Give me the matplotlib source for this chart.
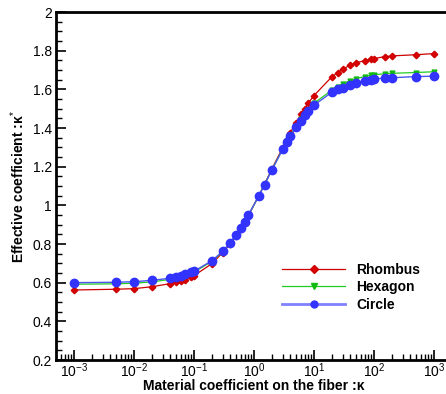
import numpy as np
import matplotlib
matplotlib.use("Agg")
import matplotlib.pyplot as plt
from matplotlib.ticker import MultipleLocator, LogLocator, NullFormatter, FixedLocator

plt.rcParams['font.family'] = ['Liberation Sans', 'DejaVu Sans']
plt.rcParams['mathtext.fontset'] = 'custom'
plt.rcParams['mathtext.rm'] = 'Liberation Sans'
plt.rcParams['mathtext.it'] = 'Liberation Sans:italic'
plt.rcParams['mathtext.bf'] = 'Liberation Sans:bold'

# material coefficient on the fiber
kappa = [1e-3, 5e-3, 1e-2, 2e-2, 4e-2, 5e-2, 6e-2, 7e-2, 9e-2, 1e-1,
         0.2, 0.3, 0.4, 0.5, 0.6, 0.7, 0.8, 1.2, 1.5, 2, 3, 3.5, 4, 5, 6, 7, 8,
         10, 20, 25, 30, 40, 50, 70, 90, 100, 150, 200, 500, 1000]

rhombus = [0.562, 0.566, 0.569, 0.579, 0.595, 0.602, 0.609, 0.614, 0.629, 0.636,
           0.699, 0.755, 0.800, 0.843, 0.878, 0.910, 0.945, 1.050, 1.110, 1.190,
           1.298, 1.338, 1.374, 1.427, 1.470, 1.500, 1.528,
           1.568, 1.666, 1.686, 1.704, 1.725, 1.738, 1.748, 1.757, 1.759,
           1.769, 1.773, 1.779, 1.785]

hexagon = [0.592, 0.594, 0.597, 0.604, 0.617, 0.623, 0.630, 0.637, 0.649, 0.654,
           0.711, 0.760, 0.805, 0.846, 0.881, 0.912, 0.947, 1.048, 1.108, 1.186,
           1.291, 1.331, 1.361, 1.409, 1.444, 1.473, 1.494,
           1.528, 1.597, 1.614, 1.629, 1.645, 1.655, 1.666, 1.673, 1.676,
           1.680, 1.683, 1.687, 1.691]

circle = [0.600, 0.602, 0.605, 0.612, 0.623, 0.629, 0.636, 0.643, 0.654, 0.659,
          0.714, 0.762, 0.807, 0.848, 0.883, 0.914, 0.948, 1.048, 1.107, 1.184,
          1.289, 1.328, 1.357, 1.404, 1.438, 1.466, 1.487,
          1.518, 1.586, 1.600, 1.607, 1.624, 1.634, 1.645, 1.649, 1.652,
          1.659, 1.660, 1.666, 1.668]

x_ticks = [1e-3, 1e-2, 1e-1, 1, 10, 100, 1000]

fig = plt.figure(figsize=(4.46, 3.94), dpi=100)
ax = fig.add_axes([56/446, 34/394, 396/446, 348/394])

ax.plot(kappa, rhombus, color='#cc0000', lw=0.9, marker='D', ms=3.3,
        mec='#cc0000', mfc='#dd0000', label='Rhombus', zorder=3)
ax.plot(kappa, hexagon, color='#22cc22', lw=0.9, marker='v', ms=3.5,
        mec='#11bb11', mfc='#11bb11', label='Hexagon', zorder=4)
ax.plot(kappa, circle, color='#4a55ee', lw=1.0, marker='o', ms=6,
        mec='#3333ff', mfc='#3333ff', label='Circle', zorder=5)

ax.set_xscale('log')
ax.set_xlim(10**-3.3, 10**3.3)
ax.set_ylim(0.2, 2.0)

ax.yaxis.set_major_locator(MultipleLocator(0.2))
ax.yaxis.set_minor_locator(MultipleLocator(0.05))
ax.xaxis.set_major_locator(FixedLocator(x_ticks))
ax.xaxis.set_minor_locator(LogLocator(base=10, subs=np.arange(2, 10), numticks=20))
ax.xaxis.set_minor_formatter(NullFormatter())

ax.yaxis.set_major_formatter(plt.FuncFormatter(lambda v, p: ('%g' % round(v, 2))))
ax.xaxis.set_major_formatter(plt.FuncFormatter(
    lambda v, p: '$\\mathdefault{10^{%d}}$' % round(np.log10(v))))

ax.tick_params(which='major', direction='in', length=7, width=1.2, labelsize=10,
               top=False, right=False, pad=3)
ax.tick_params(which='minor', direction='in', length=4, width=1.0,
               top=False, right=False)
ax.tick_params(axis='x', which='major', pad=1)

for s in ['left', 'bottom', 'top']:
    ax.spines[s].set_linewidth(2)
ax.spines['right'].set_visible(False)

ax.set_xlabel('Material coefficient on the fiber :\u03ba', fontsize=10,
              fontweight='bold', labelpad=-1)
ax.set_ylabel('Effective coefficient :\u03ba$^{*}$', fontsize=10,
              fontweight='bold', labelpad=4)

leg = ax.legend(loc='upper left', bbox_to_anchor=(0.54, 0.315), frameon=False,
                prop={'weight': 'bold', 'size': 10}, handlelength=4.5,
                labelspacing=0.25, handletextpad=0.8)
leg_lines = leg.get_lines()
leg_lines[0].set_markersize(4)
leg_lines[1].set_markersize(4)
leg_lines[2].set_markersize(5)
leg_lines[2].set_linewidth(2)
leg_lines[2].set_color('#8080ff')

fig.savefig('out.png', dpi=100)
